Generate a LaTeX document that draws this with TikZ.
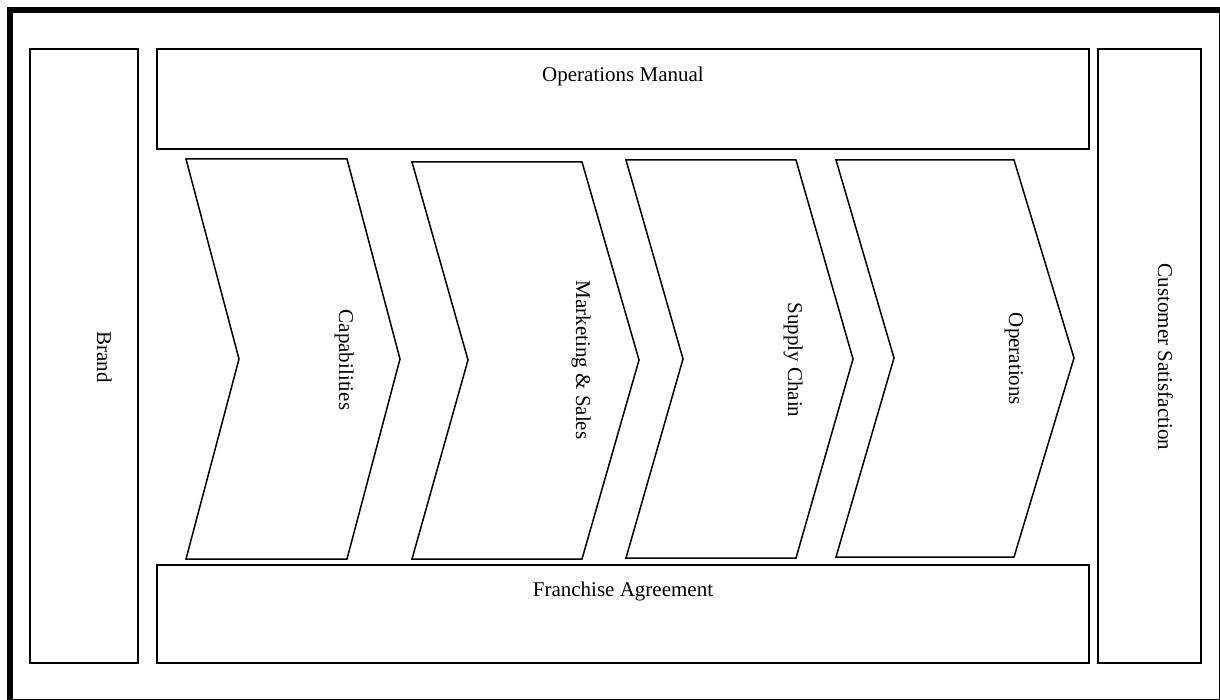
\documentclass[tikz,border=0pt]{standalone}
\usepackage{fontspec}
\setmainfont{Liberation Serif}
\begin{document}
\begin{tikzpicture}[x=1pt,y=-1pt,
  panel/.style={draw=black,line width=1.4pt,fill=white},
  chev/.style={draw=black,line width=1.5pt,fill=white,line join=miter},
  lbl/.style={inner sep=0pt,font=\fontsize{21}{25}\selectfont,anchor=base},
  vlbl/.style={lbl,rotate=-90}]
\useasboundingbox (0,0) rectangle (1220,700);
% outer frame
\draw[line width=6pt] (10,10) rectangle (1222,702);
% side and band panels
\draw[panel] (30,49) rectangle (138,663);
\draw[panel] (157,49) rectangle (1089,149);
\draw[panel] (157,565) rectangle (1089,663);
\draw[panel] (1098,49) rectangle (1201,663);
% process chevrons
\draw[chev] (186,159) -- (347,159) -- (400,359) -- (347,559) -- (186,559) -- (239,359) -- cycle;
\draw[chev] (412,162) -- (582,162) -- (639,360) -- (582,559) -- (412,559) -- (468,360) -- cycle;
\draw[chev] (626,160) -- (796,160) -- (853,359) -- (796,558) -- (626,558) -- (683,359) -- cycle;
\draw[chev] (836,160) -- (1014,160) -- (1074,358) -- (1014,557) -- (836,557) -- (894,358) -- cycle;
% labels
\node[lbl] (manual) at (623,81.5) {Operations Manual};
\node[lbl] (agreement) at (623,596) {Franchise Agreement};
\node[vlbl] (brand) at (97,357) {Brand};
\node[vlbl] (cap) at (339,360) {Capabilities};
\node[vlbl] (mkt) at (576,360) {Marketing \& Sales};
\node[vlbl] (supply) at (788,360) {Supply Chain};
\node[vlbl] (ops) at (1009,359) {Operations};
\node[vlbl] (cust) at (1158,357) {Customer Satisfaction};
\end{tikzpicture}
\end{document}
